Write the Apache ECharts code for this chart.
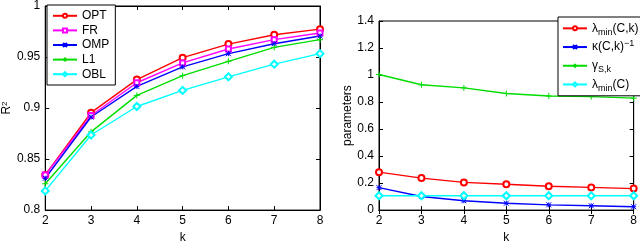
<!DOCTYPE html>
<html>
<head>
<meta charset="utf-8">
<script src="https://cdn.jsdelivr.net/npm/echarts@6/dist/echarts.min.js"></script>
<style>
  html, body { margin: 0; padding: 0; background: #fff; }
  #main { width: 640px; height: 249px; }
</style>
</head>
<body>
<div id="main"></div>
<script>
// k values shared by both panels
const ks = [2, 3, 4, 5, 6, 7, 8];

// left panel: R^2
const opt = [0.8345, 0.8955, 0.9279, 0.9494, 0.9627, 0.9718, 0.9773];
const fr  = [0.8345, 0.8927, 0.9248, 0.9442, 0.9579, 0.9670, 0.9736];
const omp = [0.8312, 0.8912, 0.9212, 0.9403, 0.9533, 0.9630, 0.9706];
const l1  = [0.8258, 0.8767, 0.9124, 0.9318, 0.9458, 0.9594, 0.9670];
const obl = [0.8188, 0.8736, 0.9015, 0.9173, 0.9306, 0.9430, 0.9533];

// right panel: parameters
const lamMinCk = [0.281, 0.237, 0.205, 0.191, 0.177, 0.168, 0.159];
const kappaInv = [0.166, 0.101, 0.069, 0.051, 0.039, 0.032, 0.025];
const gammaSk  = [1.004, 0.928, 0.905, 0.863, 0.845, 0.840, 0.829];
const lamMinC  = [0.106, 0.106, 0.106, 0.106, 0.106, 0.106, 0.106];

const FONT = 'Liberation Sans';
const crossPath = 'path://M0,0L10,10M10,0L0,10M5,0L5,10M0,5L10,5';
const plusPath = 'path://M5,0L5,10M0,5L10,5';

const pairs = (arr) => arr.map((v, i) => [ks[i], v]);

function line(name, data, color, symbol, size, xi, yi) {
  return {
    type: 'line',
    name: name,
    xAxisIndex: xi,
    yAxisIndex: yi,
    data: pairs(data),
    symbol: symbol,
    symbolSize: size,
    showSymbol: true,
    clip: false,
    lineStyle: { color: color, width: 1.4, type: 'solid' },
    itemStyle: { color: color, borderColor: color, borderWidth: 1 },
    emphasis: { disabled: true },
    animation: false
  };
}

function xAxisPair(gi) {
  const base = {
    type: 'value', gridIndex: gi, min: 2, max: 8, interval: 1,
    splitLine: { show: false },
    axisLine: { lineStyle: { color: '#000', width: 1 } },
    axisTick: { inside: true, length: 4, lineStyle: { color: '#000' } }
  };
  return [
    Object.assign({}, base, {
      position: 'bottom',
      name: 'k', nameLocation: 'middle', nameGap: 16,
      nameTextStyle: { fontFamily: FONT, fontSize: 12, color: '#000' },
      axisLabel: { fontFamily: FONT, fontSize: 12, color: '#000', margin: 5 }
    }),
    Object.assign({}, base, { position: 'top', axisLabel: { show: false } })
  ];
}

function yAxisPair(gi, min, max, interval, name, nameGap, rich) {
  const base = {
    type: 'value', gridIndex: gi, min: min, max: max, interval: interval,
    splitLine: { show: false },
    axisLine: { lineStyle: { color: '#000', width: 1 } },
    axisTick: { inside: true, length: 4, lineStyle: { color: '#000' } }
  };
  return [
    Object.assign({}, base, {
      position: 'left',
      name: name, nameLocation: 'middle', nameGap: nameGap,
      nameTextStyle: { fontFamily: FONT, fontSize: 12, color: '#000', rich: rich },
      axisLabel: { fontFamily: FONT, fontSize: 12, color: '#000', margin: 5 }
    }),
    Object.assign({}, base, { position: 'right', axisLabel: { show: false } })
  ];
}

const rightNames = ['lamCk', 'kappa', 'gamma', 'lamC'];
const rightLabels = {
  lamCk: '{m|λ}{s|min}{m|(C,k)}',
  kappa: '{m|κ(C,k)}{p|−1}',
  gamma: '{m|γ}{s|S,k}',
  lamC: '{m|λ}{s|min}{m|(C)}'
};
const richLegend = {
  m: { fontFamily: FONT, fontSize: 12, color: '#000', verticalAlign: 'middle' },
  s: { fontFamily: FONT, fontSize: 9, color: '#000', verticalAlign: 'bottom' },
  p: { fontFamily: FONT, fontSize: 9, color: '#000', verticalAlign: 'top' }
};

const legendBase = {
  orient: 'vertical',
  backgroundColor: '#fff',
  borderColor: '#000',
  borderWidth: 1,
  borderRadius: 0,
  itemWidth: 24,
  itemHeight: 5,
  selectedMode: false,
  textStyle: { fontFamily: FONT, fontSize: 12, color: '#000' }
};

const option = {
  backgroundColor: '#fff',
  animation: false,
  grid: [
    { left: 45, top: 3, width: 275, height: 219, show: true, borderColor: '#000', borderWidth: 1 },
    { left: 379, top: 21, width: 258, height: 202, show: true, borderColor: '#000', borderWidth: 1 }
  ],
  legend: [
    Object.assign({}, legendBase, {
      left: 47, top: 5, padding: [4, 6, 4, 5], itemGap: 1, height: 77,
      textStyle: { fontFamily: FONT, fontSize: 12, color: '#000', lineHeight: 13.6 },
      data: ['OPT', 'FR', 'OMP', 'L1', 'OBL']
    }),
    Object.assign({}, legendBase, {
      left: 558, top: 17, padding: [3, 3, 3, 4], itemGap: 2,
      data: rightNames,
      formatter: (name) => rightLabels[name],
      textStyle: { fontFamily: FONT, fontSize: 12, color: '#000', lineHeight: 16.7, rich: richLegend }
    })
  ],
  xAxis: xAxisPair(0).concat(xAxisPair(1)),
  yAxis: yAxisPair(0, 0.8, 1, 0.05, '{a|R}{b|2}', 31, {
    a: { fontFamily: FONT, fontSize: 12, color: '#000', verticalAlign: 'middle' },
    b: { fontFamily: FONT, fontSize: 8, color: '#000', verticalAlign: 'top' }
  }).concat(yAxisPair(1, 0, 1.4, 0.2, 'parameters', 24, {})),
  series: [
    line('OPT', opt, '#ff0000', 'emptyCircle', 6, 0, 0),
    line('FR', fr, '#ff00ff', 'emptyRect', 5, 0, 0),
    line('OMP', omp, '#0000ff', crossPath, 5, 0, 0),
    line('L1', l1, '#00dd00', plusPath, 6, 0, 0),
    line('OBL', obl, '#00ffff', 'emptyDiamond', 7, 0, 0),
    line('lamCk', lamMinCk, '#ff0000', 'emptyCircle', 6, 2, 2),
    line('kappa', kappaInv, '#0000ff', crossPath, 5, 2, 2),
    line('gamma', gammaSk, '#00dd00', plusPath, 6, 2, 2),
    line('lamC', lamMinC, '#00ffff', 'emptyDiamond', 7, 2, 2)
  ]
};

const chart = echarts.init(document.getElementById('main'), null, { renderer: 'canvas' });
chart.setOption(option);
</script>
</body>
</html>
